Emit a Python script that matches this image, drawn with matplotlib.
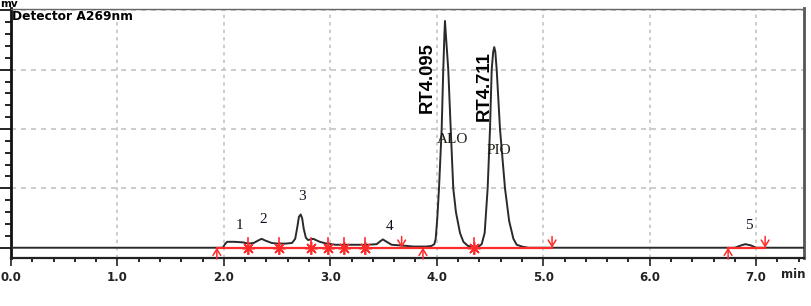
import matplotlib
matplotlib.use("Agg")
import matplotlib.pyplot as plt
from matplotlib.ticker import MultipleLocator, NullFormatter

# ---------------- data ----------------
time_min = [0.00, 1.99, 2.01, 2.03, 2.10, 2.18, 2.23, 2.28, 2.32, 2.354, 2.39, 2.45,
            2.50, 2.58, 2.64, 2.67, 2.69, 2.705, 2.721, 2.735, 2.75, 2.77, 2.79,
            2.84, 2.90, 2.965, 3.05, 3.20, 3.35, 3.435, 3.47, 3.494, 3.52, 3.576,
            3.65, 3.72, 3.78, 3.84, 3.90, 3.95, 3.977, 3.99, 4.005, 4.021, 4.046,
            4.061, 4.072, 4.077, 4.085, 4.108, 4.131, 4.155, 4.18, 4.218, 4.25,
            4.293, 4.35, 4.40, 4.422, 4.45, 4.478, 4.500, 4.516, 4.530, 4.540,
            4.550, 4.563, 4.594, 4.641, 4.68, 4.72, 4.751, 4.80, 4.86, 5.00,
            6.80, 6.86, 6.90, 6.95, 7.00, 7.45]
signal = [0.00, 0.00, 0.06, 0.10, 0.10, 0.09, 0.07, 0.08, 0.12, 0.15, 0.12, 0.08,
          0.07, 0.07, 0.08, 0.15, 0.35, 0.52, 0.56, 0.50, 0.32, 0.17, 0.13,
          0.15, 0.10, 0.07, 0.05, 0.05, 0.05, 0.06, 0.11, 0.14, 0.11, 0.05,
          0.04, 0.03, 0.02, 0.02, 0.02, 0.03, 0.06, 0.15, 0.50, 1.00, 2.00,
          3.00, 3.60, 3.82, 3.60, 3.00, 2.00, 1.00, 0.60, 0.25, 0.10,
          0.03, 0.01, 0.03, 0.06, 0.25, 1.00, 2.00, 3.00, 3.30, 3.38,
          3.30, 3.00, 2.00, 1.00, 0.45, 0.15, 0.05, 0.02, 0.00, 0.00,
          0.00, 0.04, 0.06, 0.04, 0.00, 0.00]

baseline_start = [1.934, 6.737]
baseline_end = [5.083, 7.085]
start_marks = [1.934, 3.870, 6.737]
end_marks = [3.67, 5.083, 7.085]
split_marks = [2.228, 2.520, 2.818, 2.980, 3.128, 3.325, 4.350]

peak_numbers = ["1", "2", "3", "4", "5"]
compound_names = ["ALO", "PIO"]
rt_labels = ["RT4.095", "RT4.711"]
x_tick_values = [0, 1, 2, 3, 4, 5, 6, 7]
x_tick_labels = ["0.0", "1.0", "2.0", "3.0", "4.0", "5.0", "6.0", "7.0"]

# label placements (layout, not data)
peak_number_pos = [(2.144, 0.37), (2.369, 0.48), (2.736, 0.86), (3.553, 0.365), (6.934, 0.38)]
compound_pos = [(4.150, 1.83), (4.583, 1.63)]
rt_pos = [(3.908, 2.86), (4.448, 2.72)]

# ---------------- figure ----------------
W, H = 812, 306
fig = plt.figure(figsize=(W / 100, H / 100), dpi=100)
ax = fig.add_axes([11 / W, 47.7 / H, (804 - 11) / W, (297.5 - 47.7) / H])
ax.set_xlim(0, 7.45)
ax.set_ylim(-0.178, 4.03)

grid_col = "#c4c4c4"
for gx in range(1, 8):
    ax.axvline(gx, color=grid_col, lw=1.2, ls=(0, (2, 2.5)), zorder=0)
for gy in range(1, 5):
    ax.axhline(gy, color=grid_col, lw=1.2, ls=(0, (3, 3)), zorder=0)

# trace
ax.plot(time_min, signal, color="#2a2a2a", lw=1.4, zorder=3, solid_joinstyle="round")

red = "#ff2a2a"
for s, e in zip(baseline_start, baseline_end):
    ax.plot([s, e], [0, 0], color=red, lw=1.6, zorder=4)

# integration event markers
arrow_kw = dict(arrowstyle="->,head_length=0.45,head_width=0.28", color=red, lw=1.1,
                mutation_scale=10, shrinkA=0, shrinkB=0)
for t in start_marks:
    ax.annotate("", xy=(t, 0.0), xytext=(t, -0.19), arrowprops=arrow_kw,
                zorder=5, annotation_clip=False)
for t in end_marks:
    ax.annotate("", xy=(t, 0.0), xytext=(t, 0.19), arrowprops=arrow_kw, zorder=5)
for t in split_marks:
    ax.plot([t, t], [-0.11, 0.16], color=red, lw=1.2, zorder=5)
    ax.plot([t], [0.0], marker=(8, 2, 0), color=red, markersize=9, mew=1.1, zorder=5)

# text labels
serif = ["Liberation Serif", "DejaVu Serif"]
for lab, (x, y) in zip(peak_numbers, peak_number_pos):
    ax.text(x, y, lab, family=serif, fontsize=11, ha="center", va="center", color="#111122")
for lab, (x, y) in zip(compound_names, compound_pos):
    ax.text(x, y, lab, family=serif, fontsize=11, ha="center", va="center", color="#1a1a10")
for lab, (x, y) in zip(rt_labels, rt_pos):
    ax.text(x, y, lab, family=["Liberation Sans", "DejaVu Sans"], fontweight="bold",
            fontsize=13.3, rotation=90, ha="center", va="center", color="black")

# axes styling
ax.spines["left"].set_linewidth(2.0)
ax.spines["left"].set_color("#111111")
ax.spines["bottom"].set_linewidth(1.6)
ax.spines["bottom"].set_color("#222222")
ax.spines["right"].set_linewidth(2.0)
ax.spines["right"].set_color("#555555")
ax.spines["top"].set_linewidth(1.0)
ax.spines["top"].set_color("#666666")

ax.set_xticks(x_tick_values)
ax.set_xticklabels(x_tick_labels)
ax.xaxis.set_minor_locator(MultipleLocator(0.2))
ax.tick_params(axis="x", which="major", length=6, width=1.2, direction="out", pad=3,
               labelsize=8.5, colors="#222222")
ax.tick_params(axis="x", which="minor", length=3, width=1.2, direction="out")
for lbl in ax.get_xticklabels():
    lbl.set_fontweight("bold")
    lbl.set_family("DejaVu Sans")

ax.set_yticks([0, 1, 2, 3, 4])
ax.yaxis.set_minor_locator(MultipleLocator(0.2))
ax.yaxis.set_major_formatter(NullFormatter())
ax.tick_params(axis="y", which="major", length=11, width=1.2, direction="out", labelleft=False)
ax.tick_params(axis="y", which="minor", length=4, width=1.2, direction="out")

fig.text(793 / W, 1 - 275 / H, "min", fontsize=8.5, fontweight="bold",
         family="DejaVu Sans", ha="center", va="center", color="#222222")
fig.text(12 / W, 1 - 16.5 / H, "Detector A269nm", fontsize=8.8, fontweight="bold",
         family="DejaVu Sans", ha="left", va="center")
fig.text(0.5 / W, 1 - 7 / H, "mv", fontsize=7.5, fontweight="bold",
         family="DejaVu Sans", ha="left", va="baseline")

fig.savefig("out.png", dpi=100)
